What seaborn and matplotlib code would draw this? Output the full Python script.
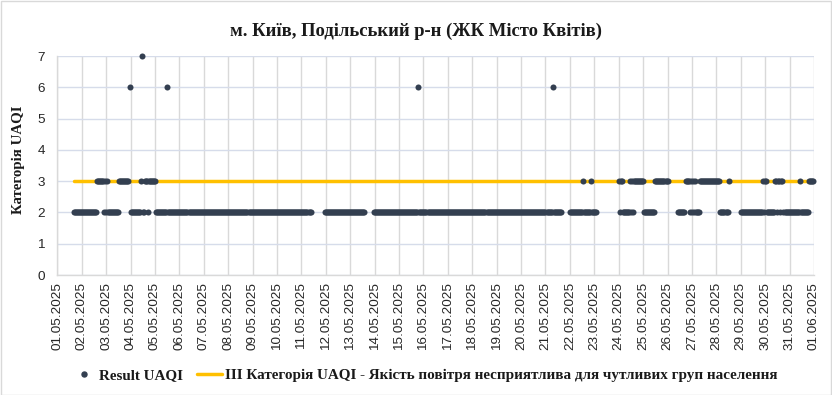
import pandas as pd
import matplotlib
matplotlib.use("Agg")
import matplotlib.pyplot as plt
import matplotlib.dates as mdates
from matplotlib.lines import Line2D
from matplotlib.patches import Rectangle
from matplotlib.font_manager import FontProperties
import seaborn as sns

# ---------------- data ----------------
title = "м. Київ, Подільський р-н (ЖК Місто Квітів)"
y_label = "Категорія UAQI"
series_name = "Result UAQI"
threshold_name = "III Категорія UAQI - Якість повітря несприятлива для чутливих груп населення"
start_time = "2025-05-01 00:00"
end_time = "2025-06-01 00:00"
threshold_value = 3
y_ticks = [0, 1, 2, 3, 4, 5, 6, 7]

# hourly readings as runs: hours since 01.05.2025 00:00 (inclusive) and category value
run_start = [16, 39, 46, 47, 48, 49, 50, 61, 71, 72, 82, 83, 84, 86, 89, 90,
             97, 108, 109, 263, 311, 355, 356, 487, 488,
             504, 517, 518, 525, 526,
             552, 553, 554, 556, 563, 564, 565, 566, 567, 577, 588,
             610, 618, 622, 623, 624, 625, 626, 627, 628, 632, 652, 660,
             672, 694, 695, 696, 698, 706, 708, 709, 711, 712, 714, 730, 731, 739]
run_end = [38, 45, 46, 47, 48, 49, 60, 70, 71, 81, 82, 83, 85, 88, 89, 96,
           107, 108, 249, 302, 354, 355, 486, 487, 495,
           516, 517, 524, 525, 530,
           552, 553, 555, 562, 563, 564, 565, 566, 576, 587, 600,
           616, 621, 622, 623, 624, 625, 626, 627, 631, 651, 659, 660,
           693, 694, 695, 697, 705, 707, 708, 710, 711, 713, 729, 730, 738, 743]
run_value = [2, 3, 2, 3, 2, 3, 2, 3, 6, 2, 3, 7, 2, 3, 2, 3,
             2, 6, 2, 2, 2, 6, 2, 6, 2,
             2, 3, 2, 3, 2,
             3, 2, 3, 2, 3, 2, 3, 2, 3, 2, 3,
             2, 3, 2, 3, 2, 3, 2, 3, 2, 3, 2, 3,
             2, 3, 2, 3, 2, 3, 2, 3, 2, 3, 2, 3, 2, 3]

# ---------------- build frames ----------------
t0 = pd.Timestamp(start_time)
hours, vals = [], []
for s, e, v in zip(run_start, run_end, run_value):
    for h in range(s, e + 1):
        hours.append(h)
        vals.append(v)
df = pd.DataFrame({"time": t0 + pd.to_timedelta(hours, unit="h"), "value": vals})
thr = pd.DataFrame({"time": [df["time"].min(), df["time"].max()],
                    "value": [threshold_value, threshold_value]})

# ---------------- style ----------------
sns.set_theme(style="white")
plt.rcParams["font.family"] = ["Liberation Sans", "DejaVu Sans"]

dark = "#333F50"
gold = "#FFC000"
text_col = "#262626"
serif_bold = dict(family=["Liberation Serif", "DejaVu Serif"], weight="bold")

fig = plt.figure(figsize=(8.32, 3.95), dpi=100)
ax = fig.add_axes([57.3 / 832, 1 - 275 / 395, (814 - 57.3) / 832, (275 - 56) / 395])

sns.lineplot(data=thr, x="time", y="value", color=gold, linewidth=2.5,
             solid_capstyle="round", ax=ax, zorder=2, legend=False)
sns.scatterplot(data=df, x="time", y="value", color=dark, s=19, linewidth=0,
                ax=ax, zorder=3, legend=False, clip_on=False)

ax.set_xlim(t0, pd.Timestamp(end_time))
ax.set_ylim(0, 7)
ax.set_yticks(y_ticks)
ax.xaxis.set_major_locator(mdates.DayLocator())
ax.xaxis.set_major_formatter(mdates.DateFormatter("%d.%m.%Y"))
ax.tick_params(axis="x", length=0, pad=5, labelsize=9.7, labelrotation=90, labelcolor=text_col)
ax.tick_params(axis="y", length=0, pad=9, labelsize=9.7, labelcolor=text_col)
ax.set_xlabel("")
ax.set_ylabel("")

ax.grid(axis="x", color="#d9d9d9", linewidth=1.0)
ax.grid(axis="y", color="#d6dcea", linewidth=1.0)
ax.set_axisbelow(True)
for side in ["top", "right"]:
    ax.spines[side].set_visible(False)
for side in ["left", "bottom"]:
    ax.spines[side].set_color("#d9d9d9")
    ax.spines[side].set_linewidth(1.0)

fig.text(0.5, 1 - 31 / 395, title, ha="center", va="center", fontsize=13.4,
         color="#1a1a1a", **serif_bold)
fig.text(18 / 832, 1 - 160 / 395, y_label, ha="center", va="center", rotation=90,
         fontsize=10.7, color="#1a1a1a", **serif_bold)

handles = [Line2D([], [], marker="o", linestyle="", color=dark, markersize=3.6),
           Line2D([], [], color=gold, linewidth=2.5)]
fig.legend(handles, [series_name, threshold_name], loc="center",
           bbox_to_anchor=(424 / 832, 1 - 375 / 395), ncol=2, frameon=False,
           prop=FontProperties(family="Liberation Serif", weight="bold", size=10.9),
           handlelength=1.7, handletextpad=0.15, columnspacing=0.9,
           labelcolor="#1a1a1a")

fig.patches.append(Rectangle((0.5 / 832, 0.5 / 395), 1 - 1.5 / 832, 1 - 1.5 / 395,
                             transform=fig.transFigure, fill=False,
                             edgecolor="#d9d9d9", linewidth=1.0))

fig.savefig("out.png", dpi=100)
